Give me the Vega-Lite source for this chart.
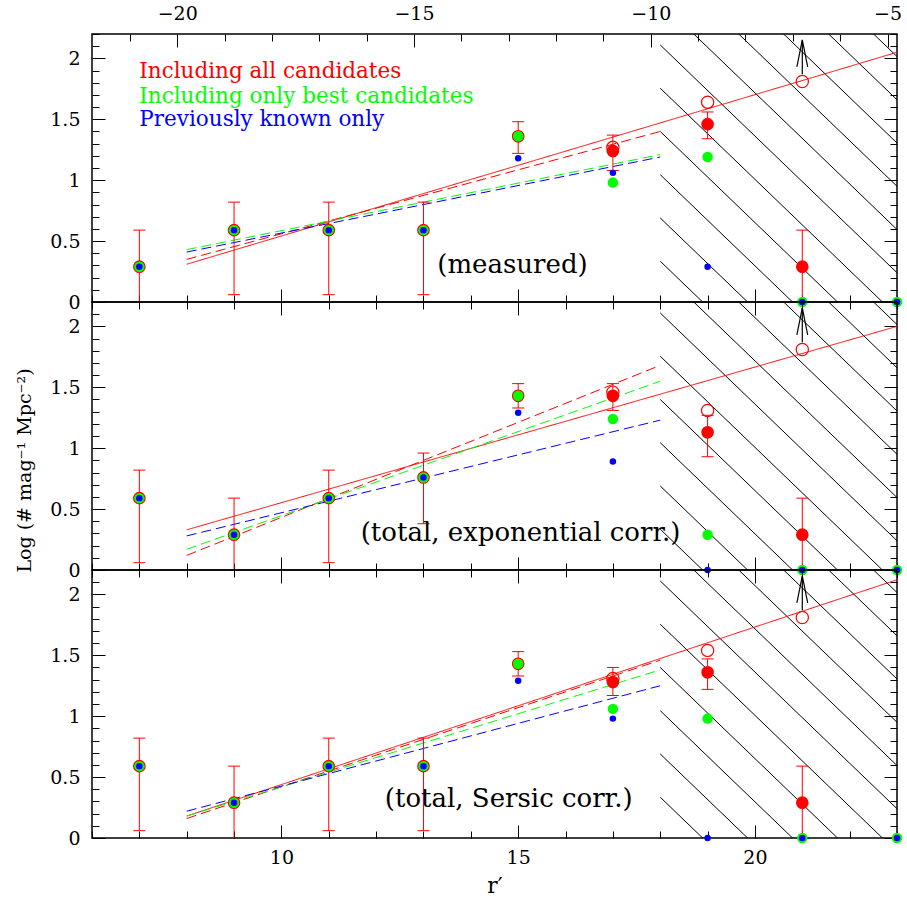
{
"$schema":"https://vega.github.io/schema/vega-lite/v6.json",
"background":"white",
"padding":{"left":14,"top":-3,"right":5,"bottom":5},
"bounds":"flush",
"spacing":0,
"config":{"view":{"stroke":"black","strokeWidth":1.5},"font":"DejaVu Serif"},
"datasets":{
"pts":[
{"panel":1,"set":"all","r":7,"v":0.29},{"panel":1,"set":"all","r":9,"v":0.59},{"panel":1,"set":"all","r":11,"v":0.59},{"panel":1,"set":"all","r":13,"v":0.59},{"panel":1,"set":"all","r":15,"v":1.36},{"panel":1,"set":"all","r":17,"v":1.24},{"panel":1,"set":"all","r":19,"v":1.46},{"panel":1,"set":"all","r":21,"v":0.29},
{"panel":1,"set":"best","r":7,"v":0.29},{"panel":1,"set":"best","r":9,"v":0.59},{"panel":1,"set":"best","r":11,"v":0.59},{"panel":1,"set":"best","r":13,"v":0.59},{"panel":1,"set":"best","r":15,"v":1.36},{"panel":1,"set":"best","r":17,"v":0.98},{"panel":1,"set":"best","r":19,"v":1.19},{"panel":1,"set":"best","r":21,"v":0},{"panel":1,"set":"best","r":23,"v":0},
{"panel":1,"set":"known","r":7,"v":0.29},{"panel":1,"set":"known","r":9,"v":0.59},{"panel":1,"set":"known","r":11,"v":0.59},{"panel":1,"set":"known","r":13,"v":0.59},{"panel":1,"set":"known","r":15,"v":1.18},{"panel":1,"set":"known","r":17,"v":1.06},{"panel":1,"set":"known","r":19,"v":0.29},{"panel":1,"set":"known","r":21,"v":0},{"panel":1,"set":"known","r":23,"v":0},
{"panel":1,"set":"open","r":17,"v":1.27},{"panel":1,"set":"open","r":19,"v":1.64},{"panel":1,"set":"open","r":21,"v":1.81},
{"panel":2,"set":"all","r":7,"v":0.59},{"panel":2,"set":"all","r":9,"v":0.29},{"panel":2,"set":"all","r":11,"v":0.59},{"panel":2,"set":"all","r":13,"v":0.76},{"panel":2,"set":"all","r":15,"v":1.43},{"panel":2,"set":"all","r":17,"v":1.43},{"panel":2,"set":"all","r":19,"v":1.13},{"panel":2,"set":"all","r":21,"v":0.29},
{"panel":2,"set":"best","r":7,"v":0.59},{"panel":2,"set":"best","r":9,"v":0.29},{"panel":2,"set":"best","r":11,"v":0.59},{"panel":2,"set":"best","r":13,"v":0.76},{"panel":2,"set":"best","r":15,"v":1.43},{"panel":2,"set":"best","r":17,"v":1.24},{"panel":2,"set":"best","r":19,"v":0.29},{"panel":2,"set":"best","r":21,"v":0},{"panel":2,"set":"best","r":23,"v":0},
{"panel":2,"set":"known","r":7,"v":0.59},{"panel":2,"set":"known","r":9,"v":0.29},{"panel":2,"set":"known","r":11,"v":0.59},{"panel":2,"set":"known","r":13,"v":0.76},{"panel":2,"set":"known","r":15,"v":1.29},{"panel":2,"set":"known","r":17,"v":0.89},{"panel":2,"set":"known","r":19,"v":0},{"panel":2,"set":"known","r":21,"v":0},{"panel":2,"set":"known","r":23,"v":0},
{"panel":2,"set":"open","r":17,"v":1.46},{"panel":2,"set":"open","r":19,"v":1.31},{"panel":2,"set":"open","r":21,"v":1.81},
{"panel":3,"set":"all","r":7,"v":0.59},{"panel":3,"set":"all","r":9,"v":0.29},{"panel":3,"set":"all","r":11,"v":0.59},{"panel":3,"set":"all","r":13,"v":0.59},{"panel":3,"set":"all","r":15,"v":1.43},{"panel":3,"set":"all","r":17,"v":1.28},{"panel":3,"set":"all","r":19,"v":1.36},{"panel":3,"set":"all","r":21,"v":0.29},
{"panel":3,"set":"best","r":7,"v":0.59},{"panel":3,"set":"best","r":9,"v":0.29},{"panel":3,"set":"best","r":11,"v":0.59},{"panel":3,"set":"best","r":13,"v":0.59},{"panel":3,"set":"best","r":15,"v":1.43},{"panel":3,"set":"best","r":17,"v":1.06},{"panel":3,"set":"best","r":19,"v":0.98},{"panel":3,"set":"best","r":21,"v":0},{"panel":3,"set":"best","r":23,"v":0},
{"panel":3,"set":"known","r":7,"v":0.59},{"panel":3,"set":"known","r":9,"v":0.29},{"panel":3,"set":"known","r":11,"v":0.59},{"panel":3,"set":"known","r":13,"v":0.59},{"panel":3,"set":"known","r":15,"v":1.29},{"panel":3,"set":"known","r":17,"v":0.98},{"panel":3,"set":"known","r":19,"v":0},{"panel":3,"set":"known","r":21,"v":0},{"panel":3,"set":"known","r":23,"v":0},
{"panel":3,"set":"open","r":17,"v":1.31},{"panel":3,"set":"open","r":19,"v":1.54},{"panel":3,"set":"open","r":21,"v":1.81}
],
"err":[
{"panel":1,"r":7,"lo":0,"hi":0.59},{"panel":1,"r":9,"lo":0.06,"hi":0.82},{"panel":1,"r":11,"lo":0.06,"hi":0.82},{"panel":1,"r":13,"lo":0.06,"hi":0.82},{"panel":1,"r":15,"lo":1.22,"hi":1.48},{"panel":1,"r":17,"lo":1.08,"hi":1.37},{"panel":1,"r":19,"lo":1.34,"hi":1.56},{"panel":1,"r":21,"lo":0,"hi":0.59},
{"panel":2,"r":7,"lo":0.06,"hi":0.82},{"panel":2,"r":9,"lo":0,"hi":0.59},{"panel":2,"r":11,"lo":0.06,"hi":0.82},{"panel":2,"r":13,"lo":0.38,"hi":0.96},{"panel":2,"r":15,"lo":1.33,"hi":1.53},{"panel":2,"r":17,"lo":1.31,"hi":1.53},{"panel":2,"r":19,"lo":0.93,"hi":1.27},{"panel":2,"r":21,"lo":0,"hi":0.59},
{"panel":3,"r":7,"lo":0.06,"hi":0.82},{"panel":3,"r":9,"lo":0,"hi":0.59},{"panel":3,"r":11,"lo":0.06,"hi":0.82},{"panel":3,"r":13,"lo":0.06,"hi":0.82},{"panel":3,"r":15,"lo":1.33,"hi":1.53},{"panel":3,"r":17,"lo":1.17,"hi":1.40},{"panel":3,"r":19,"lo":1.22,"hi":1.47},{"panel":3,"r":21,"lo":0,"hi":0.59}
],
"fits":[
{"panel":1,"fit":"solid","r":8,"v":0.31},{"panel":1,"fit":"solid","r":23,"v":2.05},
{"panel":1,"fit":"all","r":8,"v":0.35},{"panel":1,"fit":"all","r":18,"v":1.40},
{"panel":1,"fit":"best","r":8,"v":0.43},{"panel":1,"fit":"best","r":18,"v":1.21},
{"panel":1,"fit":"known","r":8,"v":0.41},{"panel":1,"fit":"known","r":18,"v":1.19},
{"panel":2,"fit":"solid","r":8,"v":0.33},{"panel":2,"fit":"solid","r":23,"v":2.0},
{"panel":2,"fit":"all","r":8,"v":0.12},{"panel":2,"fit":"all","r":18,"v":1.68},
{"panel":2,"fit":"best","r":8,"v":0.17},{"panel":2,"fit":"best","r":18,"v":1.55},
{"panel":2,"fit":"known","r":8,"v":0.28},{"panel":2,"fit":"known","r":18,"v":1.23},
{"panel":3,"fit":"solid","r":8,"v":0.18},{"panel":3,"fit":"solid","r":23,"v":2.12},
{"panel":3,"fit":"all","r":8,"v":0.16},{"panel":3,"fit":"all","r":18,"v":1.46},
{"panel":3,"fit":"best","r":8,"v":0.18},{"panel":3,"fit":"best","r":18,"v":1.38},
{"panel":3,"fit":"known","r":8,"v":0.22},{"panel":3,"fit":"known","r":18,"v":1.25}
],
"hatch":[
{"r1":18,"v1":0.335,"r2":23,"v2":-1.535},{"r1":18,"v1":0.69,"r2":23,"v2":-1.18},{"r1":18,"v1":1.045,"r2":23,"v2":-0.825},{"r1":18,"v1":1.40,"r2":23,"v2":-0.47},{"r1":18,"v1":1.755,"r2":23,"v2":-0.115},{"r1":18,"v1":2.11,"r2":23,"v2":0.24},{"r1":18,"v1":2.465,"r2":23,"v2":0.595},{"r1":18,"v1":2.82,"r2":23,"v2":0.95},{"r1":18,"v1":3.175,"r2":23,"v2":1.305},{"r1":18,"v1":3.53,"r2":23,"v2":1.66},{"r1":18,"v1":3.885,"r2":23,"v2":2.015}
],
"arrows":[
{"panel":1,"r":21,"v1":1.87,"v2":2.15,"vh":2.04},{"panel":2,"r":21,"v1":1.87,"v2":2.15,"vh":2.04},{"panel":3,"r":21,"v1":1.87,"v2":2.15,"vh":2.04}
],
"texts":[
{"panel":1,"set":"all","r":7,"v":1.89,"text":"Including all candidates"},
{"panel":1,"set":"best","r":7,"v":1.68,"text":"Including only best candidates"},
{"panel":1,"set":"known","r":7,"v":1.49,"text":"Previously known only"},
{"panel":1,"set":"label","r":14.88,"v":0.30,"text":"(measured)"},
{"panel":2,"set":"label","r":15.05,"v":0.30,"text":"(total, exponential corr.)"},
{"panel":3,"set":"label","r":14.8,"v":0.32,"text":"(total, Sersic corr.)"}
]
},
"vconcat":[
{"width":805,"height":268,
"resolve":{"axis":{"x":"independent","y":"independent"}},
"layer":[
{"data":{"name":"hatch"},"mark":{"type":"rule","clip":true,"color":"black","strokeWidth":1},
"encoding":{"x":{"field":"r1","type":"quantitative","scale":{"domain":[6,23],"nice":false,"zero":false},
"axis":{"orient":"bottom","values":[6,7,8,9,10,11,12,13,14,15,16,17,18,19,20,21,22,23],"domain":false,"grid":false,"title":null,"labels":false,"tickColor":"black","tickWidth":1,"tickSize":{"condition":{"test":"datum.value % 5 == 0","value":-13},"value":-7}}},
"y":{"field":"v1","type":"quantitative","scale":{"domain":[0,2.2],"nice":false,"zero":false},
"axis":{"orient":"left","values":[0,0.1,0.2,0.3,0.4,0.5,0.6,0.7,0.8,0.9,1,1.1,1.2,1.3,1.4,1.5,1.6,1.7,1.8,1.9,2,2.1,2.2],"domain":false,"grid":false,"title":null,"tickColor":"black","tickWidth":1,"tickSize":{"condition":{"test":"abs(datum.value*2-round(datum.value*2))<0.01","value":-13},"value":-7},"labelExpr":"abs(datum.value*2-round(datum.value*2))<0.01 ? format(datum.value,'~g') : ''","labelPadding":25,"labelFont":"DejaVu Serif","labelFontSize":19,"labelColor":"black","labelOverlap":false,"labelBound":false,"labelFlush":false}},
"x2":{"field":"r2"},"y2":{"field":"v2"}}},
{"data":{"name":"fits"},"transform":[{"filter":"datum.panel == 1"}],"mark":{"type":"line","strokeWidth":1},
"encoding":{"x":{"field":"r","type":"quantitative",
"axis":{"orient":"top","values":[6.8,7.8,8.8,9.8,10.8,11.8,12.8,13.8,14.8,15.8,16.8,17.8,18.8,19.8,20.8,21.8,22.8],"domain":false,"grid":false,"title":null,"tickColor":"black","tickWidth":1,"tickSize":{"condition":{"test":"abs(datum.value-27.8-5*round((datum.value-27.8)/5))<0.01","value":-13},"value":-7},"labelExpr":"abs(datum.value-27.8-5*round((datum.value-27.8)/5))<0.01 ? format(datum.value-27.8,'d') : ''","labelPadding":24,"labelFont":"DejaVu Serif","labelFontSize":19,"labelColor":"black","labelOverlap":false,"labelBound":false,"labelFlush":false}},
"y":{"field":"v","type":"quantitative",
"axis":{"orient":"right","values":[0,0.1,0.2,0.3,0.4,0.5,0.6,0.7,0.8,0.9,1,1.1,1.2,1.3,1.4,1.5,1.6,1.7,1.8,1.9,2,2.1,2.2],"domain":false,"grid":false,"title":null,"labels":false,"tickColor":"black","tickWidth":1,"tickSize":{"condition":{"test":"abs(datum.value*2-round(datum.value*2))<0.01","value":-13},"value":-7}}},
"color":{"field":"fit","type":"nominal","scale":{"domain":["solid","all","best","known"],"range":["#ff0000","#ff0000","#00ff00","#0000ff"]},"legend":null},
"strokeDash":{"field":"fit","type":"nominal","scale":{"domain":["solid","all","best","known"],"range":[[1,0],[10,5],[10,5],[10,5]]},"legend":null}}},
{"data":{"name":"err"},"transform":[{"filter":"datum.panel == 1"}],"mark":{"type":"rule","color":"#ff0000","strokeWidth":1},
"encoding":{"x":{"field":"r","type":"quantitative","axis":null},"y":{"field":"lo","type":"quantitative","axis":null},"y2":{"field":"hi"}}},
{"data":{"name":"err"},"transform":[{"filter":"datum.panel == 1"}],"mark":{"type":"tick","orient":"horizontal","size":12,"thickness":1,"color":"#ff0000","opacity":1},
"encoding":{"x":{"field":"r","type":"quantitative","axis":null},"y":{"field":"hi","type":"quantitative","axis":null}}},
{"data":{"name":"err"},"transform":[{"filter":"datum.panel == 1 && datum.lo > 0"}],"mark":{"type":"tick","orient":"horizontal","size":12,"thickness":1,"color":"#ff0000","opacity":1},
"encoding":{"x":{"field":"r","type":"quantitative","axis":null},"y":{"field":"lo","type":"quantitative","axis":null}}},
{"data":{"name":"pts"},"transform":[{"filter":"datum.panel == 1 && datum.set == 'open'"}],"mark":{"type":"point","shape":"circle","filled":false,"color":"#ff0000","strokeWidth":1.2,"size":150,"opacity":1},
"encoding":{"x":{"field":"r","type":"quantitative","axis":null},"y":{"field":"v","type":"quantitative","axis":null}}},
{"data":{"name":"pts"},"transform":[{"filter":"datum.panel == 1 && datum.set == 'all'"}],"mark":{"type":"circle","color":"#ff0000","size":160,"opacity":1},
"encoding":{"x":{"field":"r","type":"quantitative","axis":null},"y":{"field":"v","type":"quantitative","axis":null}}},
{"data":{"name":"pts"},"transform":[{"filter":"datum.panel == 1 && datum.set == 'best'"}],"mark":{"type":"circle","color":"#00ff00","size":110,"opacity":1},
"encoding":{"x":{"field":"r","type":"quantitative","axis":null},"y":{"field":"v","type":"quantitative","axis":null}}},
{"data":{"name":"pts"},"transform":[{"filter":"datum.panel == 1 && datum.set == 'known'"}],"mark":{"type":"circle","color":"#0000ff","size":42,"opacity":1},
"encoding":{"x":{"field":"r","type":"quantitative","axis":null},"y":{"field":"v","type":"quantitative","axis":null}}},
{"data":{"name":"arrows"},"transform":[{"filter":"datum.panel == 1"}],"mark":{"type":"rule","color":"black","strokeWidth":1.2},
"encoding":{"x":{"field":"r","type":"quantitative","axis":null},"y":{"field":"v1","type":"quantitative","axis":null},"y2":{"field":"v2"}}},
{"data":{"name":"arrows"},"transform":[{"filter":"datum.panel == 1"}],"mark":{"type":"point","shape":"M-0.4,1L0,-1L0.4,1","filled":false,"color":"black","strokeWidth":1.2,"size":729,"opacity":1},
"encoding":{"x":{"field":"r","type":"quantitative","axis":null},"y":{"field":"vh","type":"quantitative","axis":null}}},
{"data":{"name":"texts"},"transform":[{"filter":"datum.panel == 1 && datum.set == 'label'"}],"mark":{"type":"text","align":"center","baseline":"middle","font":"DejaVu Serif","fontSize":26,"color":"black"},
"encoding":{"x":{"field":"r","type":"quantitative","axis":null},"y":{"field":"v","type":"quantitative","axis":null},"text":{"field":"text"}}},
{"data":{"name":"texts"},"transform":[{"filter":"datum.panel == 1 && datum.set != 'label'"}],"mark":{"type":"text","align":"left","baseline":"middle","font":"DejaVu Serif","fontSize":21.5},
"encoding":{"x":{"field":"r","type":"quantitative","axis":null},"y":{"field":"v","type":"quantitative","axis":null},"text":{"field":"text"},
"fill":{"field":"set","type":"nominal","scale":{"domain":["all","best","known"],"range":["#ff0000","#00ff00","#0000ff"]},"legend":null}}}
]},
{"width":805,"height":268,
"resolve":{"axis":{"x":"independent","y":"independent"}},
"layer":[
{"data":{"name":"hatch"},"mark":{"type":"rule","clip":true,"color":"black","strokeWidth":1},
"encoding":{"x":{"field":"r1","type":"quantitative","scale":{"domain":[6,23],"nice":false,"zero":false},
"axis":{"orient":"bottom","values":[6,7,8,9,10,11,12,13,14,15,16,17,18,19,20,21,22,23],"domain":false,"grid":false,"title":null,"labels":false,"tickColor":"black","tickWidth":1,"tickSize":{"condition":{"test":"datum.value % 5 == 0","value":-13},"value":-7}}},
"y":{"field":"v1","type":"quantitative","scale":{"domain":[0,2.2],"nice":false,"zero":false},
"axis":{"orient":"left","values":[0,0.1,0.2,0.3,0.4,0.5,0.6,0.7,0.8,0.9,1,1.1,1.2,1.3,1.4,1.5,1.6,1.7,1.8,1.9,2,2.1,2.2],"domain":false,"grid":false,"tickColor":"black","tickWidth":1,"tickSize":{"condition":{"test":"abs(datum.value*2-round(datum.value*2))<0.01","value":-13},"value":-7},"labelExpr":"abs(datum.value*2-round(datum.value*2))<0.01 ? format(datum.value,'~g') : ''","labelPadding":25,"labelFont":"DejaVu Serif","labelFontSize":19,"labelColor":"black","labelOverlap":false,"labelBound":false,"labelFlush":false,
"title":"Log (# mag⁻¹ Mpc⁻²)","titleFont":"DejaVu Serif","titleFontSize":19,"titleFontWeight":"normal","titleColor":"black","titleAngle":270,"titleAlign":"center","titleBaseline":"middle","titleX":-68,"titleY":168}},
"x2":{"field":"r2"},"y2":{"field":"v2"}}},
{"data":{"name":"fits"},"transform":[{"filter":"datum.panel == 2"}],"mark":{"type":"line","strokeWidth":1},
"encoding":{"x":{"field":"r","type":"quantitative",
"axis":{"orient":"top","values":[6,7,8,9,10,11,12,13,14,15,16,17,18,19,20,21,22,23],"domain":false,"grid":false,"title":null,"labels":false,"tickColor":"black","tickWidth":1,"tickSize":{"condition":{"test":"datum.value % 5 == 0","value":-13},"value":-7}}},
"y":{"field":"v","type":"quantitative",
"axis":{"orient":"right","values":[0,0.1,0.2,0.3,0.4,0.5,0.6,0.7,0.8,0.9,1,1.1,1.2,1.3,1.4,1.5,1.6,1.7,1.8,1.9,2,2.1,2.2],"domain":false,"grid":false,"title":null,"labels":false,"tickColor":"black","tickWidth":1,"tickSize":{"condition":{"test":"abs(datum.value*2-round(datum.value*2))<0.01","value":-13},"value":-7}}},
"color":{"field":"fit","type":"nominal","scale":{"domain":["solid","all","best","known"],"range":["#ff0000","#ff0000","#00ff00","#0000ff"]},"legend":null},
"strokeDash":{"field":"fit","type":"nominal","scale":{"domain":["solid","all","best","known"],"range":[[1,0],[10,5],[10,5],[10,5]]},"legend":null}}},
{"data":{"name":"err"},"transform":[{"filter":"datum.panel == 2"}],"mark":{"type":"rule","color":"#ff0000","strokeWidth":1},
"encoding":{"x":{"field":"r","type":"quantitative","axis":null},"y":{"field":"lo","type":"quantitative","axis":null},"y2":{"field":"hi"}}},
{"data":{"name":"err"},"transform":[{"filter":"datum.panel == 2"}],"mark":{"type":"tick","orient":"horizontal","size":12,"thickness":1,"color":"#ff0000","opacity":1},
"encoding":{"x":{"field":"r","type":"quantitative","axis":null},"y":{"field":"hi","type":"quantitative","axis":null}}},
{"data":{"name":"err"},"transform":[{"filter":"datum.panel == 2 && datum.lo > 0"}],"mark":{"type":"tick","orient":"horizontal","size":12,"thickness":1,"color":"#ff0000","opacity":1},
"encoding":{"x":{"field":"r","type":"quantitative","axis":null},"y":{"field":"lo","type":"quantitative","axis":null}}},
{"data":{"name":"pts"},"transform":[{"filter":"datum.panel == 2 && datum.set == 'open'"}],"mark":{"type":"point","shape":"circle","filled":false,"color":"#ff0000","strokeWidth":1.2,"size":150,"opacity":1},
"encoding":{"x":{"field":"r","type":"quantitative","axis":null},"y":{"field":"v","type":"quantitative","axis":null}}},
{"data":{"name":"pts"},"transform":[{"filter":"datum.panel == 2 && datum.set == 'all'"}],"mark":{"type":"circle","color":"#ff0000","size":160,"opacity":1},
"encoding":{"x":{"field":"r","type":"quantitative","axis":null},"y":{"field":"v","type":"quantitative","axis":null}}},
{"data":{"name":"pts"},"transform":[{"filter":"datum.panel == 2 && datum.set == 'best'"}],"mark":{"type":"circle","color":"#00ff00","size":110,"opacity":1},
"encoding":{"x":{"field":"r","type":"quantitative","axis":null},"y":{"field":"v","type":"quantitative","axis":null}}},
{"data":{"name":"pts"},"transform":[{"filter":"datum.panel == 2 && datum.set == 'known'"}],"mark":{"type":"circle","color":"#0000ff","size":42,"opacity":1},
"encoding":{"x":{"field":"r","type":"quantitative","axis":null},"y":{"field":"v","type":"quantitative","axis":null}}},
{"data":{"name":"arrows"},"transform":[{"filter":"datum.panel == 2"}],"mark":{"type":"rule","color":"black","strokeWidth":1.2},
"encoding":{"x":{"field":"r","type":"quantitative","axis":null},"y":{"field":"v1","type":"quantitative","axis":null},"y2":{"field":"v2"}}},
{"data":{"name":"arrows"},"transform":[{"filter":"datum.panel == 2"}],"mark":{"type":"point","shape":"M-0.4,1L0,-1L0.4,1","filled":false,"color":"black","strokeWidth":1.2,"size":729,"opacity":1},
"encoding":{"x":{"field":"r","type":"quantitative","axis":null},"y":{"field":"vh","type":"quantitative","axis":null}}},
{"data":{"name":"texts"},"transform":[{"filter":"datum.panel == 2 && datum.set == 'label'"}],"mark":{"type":"text","align":"center","baseline":"middle","font":"DejaVu Serif","fontSize":26,"color":"black"},
"encoding":{"x":{"field":"r","type":"quantitative","axis":null},"y":{"field":"v","type":"quantitative","axis":null},"text":{"field":"text"}}}
]},
{"width":805,"height":268,
"resolve":{"axis":{"x":"independent","y":"independent"}},
"layer":[
{"data":{"name":"hatch"},"mark":{"type":"rule","clip":true,"color":"black","strokeWidth":1},
"encoding":{"x":{"field":"r1","type":"quantitative","scale":{"domain":[6,23],"nice":false,"zero":false},
"axis":{"orient":"bottom","values":[6,7,8,9,10,11,12,13,14,15,16,17,18,19,20,21,22,23],"domain":false,"grid":false,"tickColor":"black","tickWidth":1,"tickSize":{"condition":{"test":"datum.value % 5 == 0","value":-13},"value":-7},"labelExpr":"datum.value % 5 == 0 ? format(datum.value,'d') : ''","labelPadding":23,"labelFont":"DejaVu Serif","labelFontSize":19,"labelColor":"black","labelOverlap":false,"labelBound":false,"labelFlush":false,
"title":"r′","titleFont":"DejaVu Serif","titleFontSize":22,"titleFontWeight":"normal","titleColor":"black","titlePadding":2}},
"y":{"field":"v1","type":"quantitative","scale":{"domain":[0,2.2],"nice":false,"zero":false},
"axis":{"orient":"left","values":[0,0.1,0.2,0.3,0.4,0.5,0.6,0.7,0.8,0.9,1,1.1,1.2,1.3,1.4,1.5,1.6,1.7,1.8,1.9,2,2.1,2.2],"domain":false,"grid":false,"title":null,"tickColor":"black","tickWidth":1,"tickSize":{"condition":{"test":"abs(datum.value*2-round(datum.value*2))<0.01","value":-13},"value":-7},"labelExpr":"abs(datum.value*2-round(datum.value*2))<0.01 ? format(datum.value,'~g') : ''","labelPadding":25,"labelFont":"DejaVu Serif","labelFontSize":19,"labelColor":"black","labelOverlap":false,"labelBound":false,"labelFlush":false}},
"x2":{"field":"r2"},"y2":{"field":"v2"}}},
{"data":{"name":"fits"},"transform":[{"filter":"datum.panel == 3"}],"mark":{"type":"line","strokeWidth":1},
"encoding":{"x":{"field":"r","type":"quantitative",
"axis":{"orient":"top","values":[6,7,8,9,10,11,12,13,14,15,16,17,18,19,20,21,22,23],"domain":false,"grid":false,"title":null,"labels":false,"tickColor":"black","tickWidth":1,"tickSize":{"condition":{"test":"datum.value % 5 == 0","value":-13},"value":-7}}},
"y":{"field":"v","type":"quantitative",
"axis":{"orient":"right","values":[0,0.1,0.2,0.3,0.4,0.5,0.6,0.7,0.8,0.9,1,1.1,1.2,1.3,1.4,1.5,1.6,1.7,1.8,1.9,2,2.1,2.2],"domain":false,"grid":false,"title":null,"labels":false,"tickColor":"black","tickWidth":1,"tickSize":{"condition":{"test":"abs(datum.value*2-round(datum.value*2))<0.01","value":-13},"value":-7}}},
"color":{"field":"fit","type":"nominal","scale":{"domain":["solid","all","best","known"],"range":["#ff0000","#ff0000","#00ff00","#0000ff"]},"legend":null},
"strokeDash":{"field":"fit","type":"nominal","scale":{"domain":["solid","all","best","known"],"range":[[1,0],[12,4,3,4],[10,5],[10,5]]},"legend":null}}},
{"data":{"name":"err"},"transform":[{"filter":"datum.panel == 3"}],"mark":{"type":"rule","color":"#ff0000","strokeWidth":1},
"encoding":{"x":{"field":"r","type":"quantitative","axis":null},"y":{"field":"lo","type":"quantitative","axis":null},"y2":{"field":"hi"}}},
{"data":{"name":"err"},"transform":[{"filter":"datum.panel == 3"}],"mark":{"type":"tick","orient":"horizontal","size":12,"thickness":1,"color":"#ff0000","opacity":1},
"encoding":{"x":{"field":"r","type":"quantitative","axis":null},"y":{"field":"hi","type":"quantitative","axis":null}}},
{"data":{"name":"err"},"transform":[{"filter":"datum.panel == 3 && datum.lo > 0"}],"mark":{"type":"tick","orient":"horizontal","size":12,"thickness":1,"color":"#ff0000","opacity":1},
"encoding":{"x":{"field":"r","type":"quantitative","axis":null},"y":{"field":"lo","type":"quantitative","axis":null}}},
{"data":{"name":"pts"},"transform":[{"filter":"datum.panel == 3 && datum.set == 'open'"}],"mark":{"type":"point","shape":"circle","filled":false,"color":"#ff0000","strokeWidth":1.2,"size":150,"opacity":1},
"encoding":{"x":{"field":"r","type":"quantitative","axis":null},"y":{"field":"v","type":"quantitative","axis":null}}},
{"data":{"name":"pts"},"transform":[{"filter":"datum.panel == 3 && datum.set == 'all'"}],"mark":{"type":"circle","color":"#ff0000","size":160,"opacity":1},
"encoding":{"x":{"field":"r","type":"quantitative","axis":null},"y":{"field":"v","type":"quantitative","axis":null}}},
{"data":{"name":"pts"},"transform":[{"filter":"datum.panel == 3 && datum.set == 'best'"}],"mark":{"type":"circle","color":"#00ff00","size":110,"opacity":1},
"encoding":{"x":{"field":"r","type":"quantitative","axis":null},"y":{"field":"v","type":"quantitative","axis":null}}},
{"data":{"name":"pts"},"transform":[{"filter":"datum.panel == 3 && datum.set == 'known'"}],"mark":{"type":"circle","color":"#0000ff","size":42,"opacity":1},
"encoding":{"x":{"field":"r","type":"quantitative","axis":null},"y":{"field":"v","type":"quantitative","axis":null}}},
{"data":{"name":"arrows"},"transform":[{"filter":"datum.panel == 3"}],"mark":{"type":"rule","color":"black","strokeWidth":1.2},
"encoding":{"x":{"field":"r","type":"quantitative","axis":null},"y":{"field":"v1","type":"quantitative","axis":null},"y2":{"field":"v2"}}},
{"data":{"name":"arrows"},"transform":[{"filter":"datum.panel == 3"}],"mark":{"type":"point","shape":"M-0.4,1L0,-1L0.4,1","filled":false,"color":"black","strokeWidth":1.2,"size":729,"opacity":1},
"encoding":{"x":{"field":"r","type":"quantitative","axis":null},"y":{"field":"vh","type":"quantitative","axis":null}}},
{"data":{"name":"texts"},"transform":[{"filter":"datum.panel == 3 && datum.set == 'label'"}],"mark":{"type":"text","align":"center","baseline":"middle","font":"DejaVu Serif","fontSize":26,"color":"black"},
"encoding":{"x":{"field":"r","type":"quantitative","axis":null},"y":{"field":"v","type":"quantitative","axis":null},"text":{"field":"text"}}}
]}
]
}
